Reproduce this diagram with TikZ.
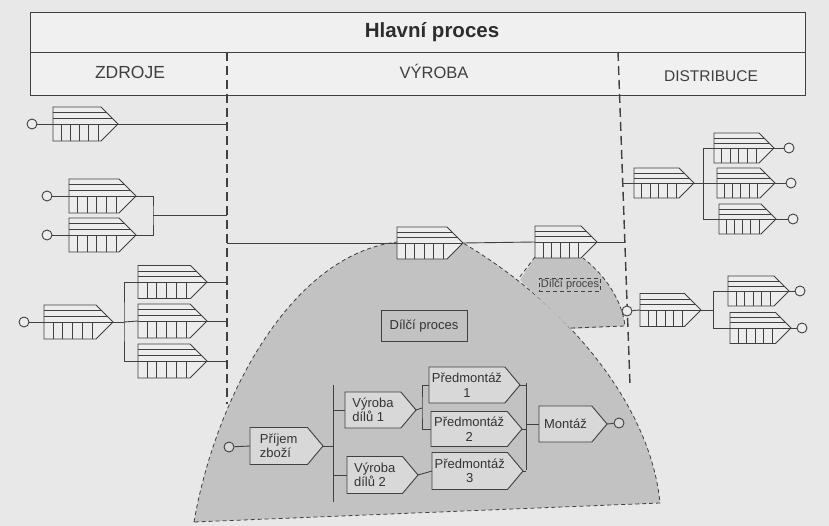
\documentclass[tikz,border=0pt]{standalone}
\usepackage{fontspec}
\setmainfont{Liberation Sans}
\usetikzlibrary{shapes.symbols,calc}
\definecolor{ink}{HTML}{404040}
\definecolor{paper}{HTML}{E8E8E8}
\definecolor{headfill}{HTML}{F0F0F0}
\definecolor{qfill}{HTML}{EDEDED}
\definecolor{domegray}{HTML}{C2C2C2}
\definecolor{boxgray}{HTML}{D8D8D8}
\tikzset{
  ln/.style={draw=ink, line width=0.9pt},
  queue/.style 2 args={signal, signal to=east, signal pointer angle=90,
    draw=ink, line width=0.9pt, fill=qfill, minimum width=#1, minimum height=#2,
    inner sep=0pt, outer sep=0pt,
    path picture={
      \path (path picture bounding box.north west) coordinate (qnw)
            (path picture bounding box.south east) coordinate (qse);
      \path ($(qnw)!0.5!(qnw|-qse)$) coordinate (qm);
      \foreach \f in {0.17,0.33,0.5}{
        \draw[ink, line width=0.7pt] ($(qnw)!\f!(qnw|-qse)$) -- ($(qnw-|qse)!\f!(qse)$);}
      \foreach \f in {0.13,0.27,0.41,0.55,0.70}{
        \path ($(qnw|-qse)!\f!(qse)$) coordinate (qb);
        \draw[ink, line width=0.7pt] (qb) -- (qb|-qm);}
    }},
  tbox/.style={signal, signal to=east, signal pointer angle=100, draw=ink,
    line width=0.9pt, fill=boxgray, inner sep=1.5pt, outer sep=0pt, text=ink!80!black,
    font=\fontsize{13}{14.5}\selectfont},
  port/.style={circle, draw=ink, line width=0.9pt, fill=qfill, minimum size=10pt, inner sep=0pt},
  sep/.style={draw=ink, line width=1.4pt, dash pattern=on 9pt off 5pt},
  zone/.style={draw=ink, line width=0.8pt, dash pattern=on 4pt off 3pt},
}
\begin{document}
\begin{tikzpicture}[x=1pt,y=-1pt]
\useasboundingbox (0,0) rectangle (829,526);
\fill[paper] (0,0) rectangle (829,526);

% header
\draw[ln, fill=headfill] (30,12) rectangle (805,95);
\draw[ln] (30,52) -- (805,52);
\node[font=\fontsize{20.5}{22}\selectfont\bfseries, text=ink!70!black] (title) at (432,32) {Hlavní proces};
\node[font=\fontsize{17.5}{19}\selectfont, text=ink] (hz) at (130,72) {ZDROJE};
\node[font=\fontsize{16.5}{18}\selectfont, text=ink] (hv) at (434,71) {VÝROBA};
\node[font=\fontsize{15.5}{18}\selectfont, text=ink] (hd) at (711,76) {DISTRIBUCE};

% big sub-process zone
\path[zone, fill=domegray] (194,522) .. controls (215,400) and (290,255) .. (397,242)
   -- (463,243) .. controls (560,300) and (650,400) .. (660,503) -- cycle;
% small sub-process zone
\fill[domegray] (535,257) -- (520,280) -- (571,329) -- (625,326)
   .. controls (622,300) and (605,275) .. (583,258) -- cycle;
\draw[zone] (535,257) -- (519,278);
\draw[zone] (571,328) -- (625,326) .. controls (622,300) and (605,275) .. (583,258);
\node[zone, fill=domegray, inner sep=1.5pt, font=\fontsize{11}{12}\selectfont, text=ink] (lab2) at (570,285) {Dílčí proces};
\node[ln, fill=domegray, minimum width=86pt, minimum height=31pt, inner sep=0pt, font=\fontsize{13}{14}\selectfont, text=ink!80!black] (lab1) at (424,326) {Dílčí proces};

% separators
\coordinate (dlt) at (227,52);
\coordinate (dlb) at (227,404);
\coordinate (drt) at (618,52);
\coordinate (drb) at (630,385);
\draw[sep] (dlt) -- (dlb);
\draw[sep] (drt) -- (drb);

% ZDROJE
\node[queue={65pt}{34pt}, anchor=west] (s1) at (53,124) {};
\node[queue={67pt}{34pt}, anchor=west] (s2) at (69,196) {};
\node[queue={67pt}{34pt}, anchor=west] (s3) at (69,235) {};
\node[queue={69pt}{34pt}, anchor=west] (s4) at (44,322) {};
\node[queue={69pt}{33pt}, anchor=west] (s5) at (138,282) {};
\node[queue={69pt}{34pt}, anchor=west] (s6) at (138,321) {};
\node[queue={69pt}{34pt}, anchor=west] (s7) at (138,361) {};
\node[port] (o1) at (32,124) {};
\node[port] (o2) at (47,196) {};
\node[port] (o3) at (47,235) {};
\node[port] (o4) at (24,322) {};
\draw[ln] (o1) -- (s1.west);
\draw[ln] (o2) -- (s2.west);
\draw[ln] (o3) -- (s3.west);
\draw[ln] (o4) -- (s4.west);
\draw[ln] (s1.east) -- (s1.east -| dlt);
\coordinate (j1) at (153,215);
\draw[ln] (s2.east) -| (j1) |- (s3.east);
\draw[ln] (j1) -- (j1 -| dlt);
\coordinate (j2) at (124,322);
\draw[ln] (s4.east) -- (j2);
\draw[ln] (s5.west) -| (j2) |- (s7.west);
\draw[ln] (j2) -- (s6.west);
\draw[ln] (s5.east) -- (s5.east -| dlt);
\draw[ln] (s6.east) -- (s6.east -| dlt);
\draw[ln] (s7.east) -- (s7.east -| dlt);

% VYROBA main line
\node[queue={66pt}{32pt}, anchor=west] (p1) at (397,243) {};
\node[queue={62pt}{32pt}, anchor=west] (p2) at (535,242) {};
\coordinate (ml) at (227,243);
\coordinate (dr2) at (625,242);
\draw[ln] (ml) -- (p1.west);
\draw[ln] (p1.east) -- (p2.west);
\draw[ln] (p2.east) -- (dr2);

% DISTRIBUCE
\coordinate (dr1) at (623,183);
\node[queue={60pt}{30pt}, anchor=west] (d1) at (634,183) {};
\node[queue={60pt}{30pt}, anchor=west] (d2) at (714,148) {};
\node[queue={58pt}{30pt}, anchor=west] (d3) at (717,183) {};
\node[queue={57pt}{30pt}, anchor=west] (d4) at (719,219) {};
\node[port] (od2) at (789,148) {};
\node[port] (od3) at (791,183) {};
\node[port] (od4) at (793,219) {};
\draw[ln] (dr1) -- (d1.west);
\coordinate (j3) at (703,183);
\draw[ln] (d1.east) -- (j3);
\draw[ln] (d2.west) -| (j3) |- (d4.west);
\draw[ln] (j3) -- (d3.west);
\draw[ln] (d2.east) -- (od2);
\draw[ln] (d3.east) -- (od3);
\draw[ln] (d4.east) -- (od4);

\node[port] (od5) at (627,311) {};
\node[queue={61pt}{33pt}, anchor=west] (d5) at (640,310) {};
\node[queue={61pt}{30pt}, anchor=west] (d6) at (728,291) {};
\node[queue={61pt}{31pt}, anchor=west] (d7) at (730,328) {};
\node[port] (od6) at (800,291) {};
\node[port] (od7) at (802,328) {};
\draw[ln] (od5) -- (d5.west);
\coordinate (j4) at (713,310);
\draw[ln] (d5.east) -- (j4);
\draw[ln] (d6.west) -| (j4) |- (d7.west);
\draw[ln] (d6.east) -- (od6);
\draw[ln] (d7.east) -- (od7);

% inner sub-process flow
\node[port, fill=boxgray] (oi) at (229,447) {};
\node[tbox, anchor=west, minimum width=73pt, minimum height=37pt, align=left] (pz) at (250,446) {Příjem\\zboží};
\node[tbox, anchor=west, minimum width=71pt, minimum height=36pt, align=left] (v1) at (345,410) {Výroba\\dílů 1};
\node[tbox, anchor=west, minimum width=71pt, minimum height=37pt, align=left] (v2) at (347,475) {Výroba\\dílů 2};
\node[tbox, anchor=west, minimum width=91pt, minimum height=36pt, align=center] (pm1) at (429,385) {Předmontáž\\1};
\node[tbox, anchor=west, minimum width=91pt, minimum height=35pt, align=center] (pm2) at (431,429) {Předmontáž\\2};
\node[tbox, anchor=west, minimum width=91pt, minimum height=37pt, align=center] (pm3) at (432,471) {Předmontáž\\3};
\node[tbox, anchor=west, minimum width=68pt, minimum height=36pt] (mt) at (539,424) {Montáž};
\node[port, fill=boxgray] (om) at (619,423) {};

\draw[ln] (oi) -- (pz.west);
\coordinate (b1t) at (333,385);
\coordinate (b1b) at (333,502);
\draw[ln] (b1t) -- (b1b);
\draw[ln] (pz.east) -- (pz.east -| b1t);
\draw[ln] (v1.west) -- (v1.west -| b1t);
\draw[ln] (v2.west) -- (v2.west -| b1t);
\coordinate (b2) at (422,408);
\draw[ln] (v1.east) -- (b2);
\draw[ln] (pm1.west) -| (b2) |- (pm2.west);
\draw[ln] (v2.east) -- (pm3.west);
\coordinate (b3t) at (526,383);
\coordinate (b3b) at (526,470);
\draw[ln] (b3t) -- (b3b);
\draw[ln] (pm1.east) -- (pm1.east -| b3t);
\draw[ln] (pm2.east) -- (pm2.east -| b3t);
\draw[ln] (pm3.east) -- (pm3.east -| b3t);
\draw[ln] (mt.west -| b3t) -- (mt.west);
\draw[ln] (mt.east) -- (om);
\end{tikzpicture}
\end{document}
